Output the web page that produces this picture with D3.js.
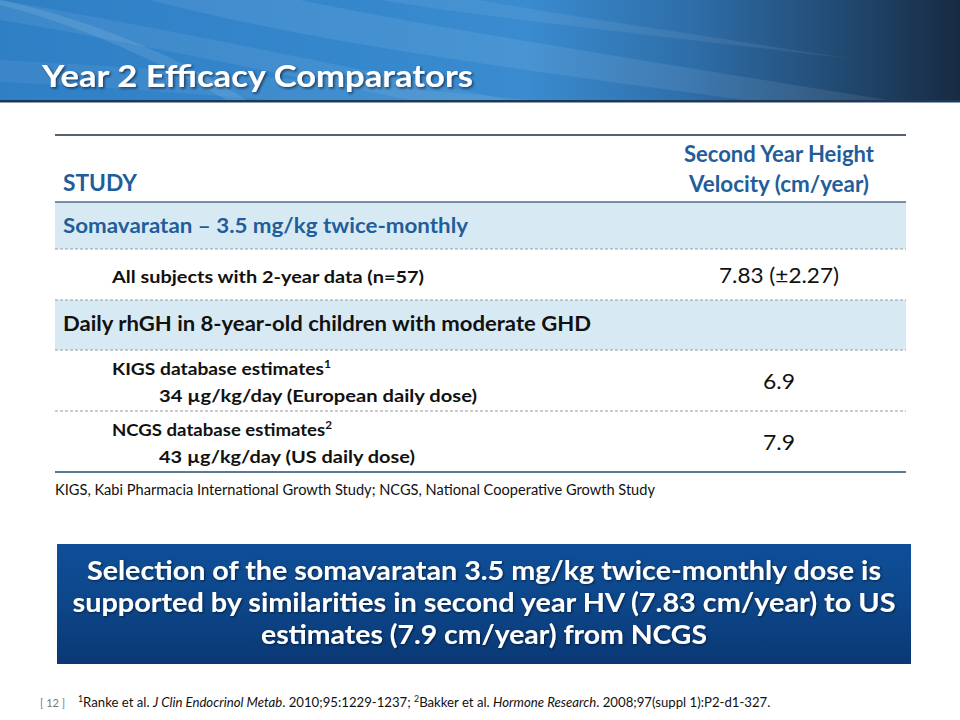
<!DOCTYPE html>
<html><head><meta charset="utf-8">
<script src="https://cdn.jsdelivr.net/npm/d3@7/dist/d3.min.js"></script>
<style>html,body{margin:0;padding:0;background:#fff;}svg{display:block;}</style>
</head><body>
<script>
// ---- data ----
const slideTitle = "Year 2 Efficacy Comparators";
const headerStudy = "STUDY";
const headerValue = ["Second Year Height", "Velocity (cm/year)"];
const rowKinds = ["group", "item", "group", "item", "item"];
const rowLabels = ["Somavaratan \u2013 3.5 mg/kg twice-monthly", "All subjects with 2-year data (n=57)", "Daily rhGH in 8-year-old children with moderate GHD", "KIGS database estimates", "NCGS database estimates"];
const rowLabelSup = ["", "", "", "1", "2"];
const rowSubLabels = ["", "", "", "34 \u00b5g/kg/day (European daily dose)", "43 \u00b5g/kg/day (US daily dose)"];
const hvMean = [null, 7.83, null, 6.9, 7.9];
const hvSD = [null, 2.27, null, null, null];
const abbrevNote = "KIGS, Kabi Pharmacia International Growth Study; NCGS, National Cooperative Growth Study";
const conclusionLines = ["Selection of the somavaratan 3.5 mg/kg twice-monthly dose is", "supported by similarities in second year HV (7.83 cm/year) to US", "estimates (7.9 cm/year) from NCGS"];
const slideNumber = "[ 12 ]";
const refParts = [
  { t: "1", sup: true }, { t: "Ranke et al. " }, { t: "J Clin Endocrinol Metab", it: true }, { t: ". 2010;95:1229-1237;  " },
  { t: "2", sup: true }, { t: "Bakker et al.  " }, { t: "Hormone Research", it: true }, { t: ". 2008;97(suppl 1):P2-d1-327." }
];

// ---- layout ----
const W = 960, H = 720;
const FONT = "Lato, 'Open Sans', sans-serif";
const svg = d3.select("body").append("svg").attr("width", W).attr("height", H);
const defs = svg.append("defs");

function fit(sel, w) { if (w) sel.attr("textLength", w).attr("lengthAdjust", "spacingAndGlyphs"); return sel; }

// banner
const bg = defs.append("linearGradient").attr("id", "bannerG").attr("x1", 0).attr("x2", 1).attr("y1", 0).attr("y2", 0);
[[0, "#2f7fc5"], [0.35, "#3587cc"], [0.55, "#3a8bcf"], [0.72, "#2e6ea9"], [0.86, "#234e78"], [1, "#172a42"]]
  .forEach(([o, c]) => bg.append("stop").attr("offset", o).attr("stop-color", c));
svg.append("rect").attr("x", 0).attr("y", 0).attr("width", W).attr("height", 102).attr("fill", "url(#bannerG)");
const sw = svg.append("g").attr("fill", "#ffffff");
sw.append("path").attr("d", "M0,20 C120,40 260,70 420,102 L520,102 C360,70 200,35 0,0 Z").attr("opacity", 0.07);
sw.append("path").attr("d", "M150,0 C300,40 520,70 760,102 L900,102 C640,60 420,25 300,0 Z").attr("opacity", 0.08);
sw.append("path").attr("d", "M0,60 C200,70 420,90 560,102 L300,102 C200,95 80,85 0,82 Z").attr("opacity", 0.06);
sw.append("path").attr("d", "M380,0 C500,20 700,40 860,60 C700,35 560,15 480,0 Z").attr("opacity", 0.07);
sw.append("path").attr("d", "M0,5 C60,20 140,50 230,102 L250,102 C160,45 70,15 0,0 Z").attr("opacity", 0.1);
svg.append("rect").attr("x", 0).attr("y", 100).attr("width", W).attr("height", 2.5).attr("fill", "#1e3958");

const sh = defs.append("filter").attr("id", "shadow").attr("x", -0.1).attr("y", -0.3).attr("width", 1.2).attr("height", 1.6);
sh.append("feDropShadow").attr("dx", 1.5).attr("dy", 1.5).attr("stdDeviation", 1).attr("flood-color", "#0a1a30").attr("flood-opacity", 0.7);
fit(svg.append("text").attr("x", 42).attr("y", 87).attr("font-family", FONT).attr("font-weight", 700)
  .attr("font-size", 31).attr("fill", "#fff").attr("filter", "url(#shadow)").text(slideTitle), 431);

// table
const tX0 = 55, tX1 = 906, valCX = 779;
const rowHeights = [47, 51, 50, 61, 61];
const headTop = 135, headBottom = 202;
const cum = d3.cumsum([0, ...rowHeights]);
const y = d3.scaleLinear().domain([0, cum[cum.length - 1]]).range([headBottom, headBottom + cum[cum.length - 1]]);
const fmt1 = d3.format(".2~f");
const blue = "#1f5e9a";

svg.append("line").attr("x1", tX0).attr("x2", tX1).attr("y1", headTop).attr("y2", headTop).attr("stroke", "#1d2f40").attr("stroke-width", 1.5);
fit(svg.append("text").attr("x", 63).attr("y", 191).attr("font-family", FONT).attr("font-weight", 700).attr("font-size", 23).attr("fill", blue).text(headerStudy), 74);
svg.append("g").selectAll("text").data(headerValue).join("text")
  .attr("x", valCX).attr("y", (d, i) => 162 + i * 30).attr("text-anchor", "middle")
  .attr("font-family", FONT).attr("font-weight", 700).attr("font-size", 22).attr("fill", blue)
  .text(d => d).each(function (d, i) { fit(d3.select(this), [190, 180][i]); });

const rows = rowLabels.map((l, i) => ({ i, kind: rowKinds[i], label: l, sup: rowLabelSup[i], sub: rowSubLabels[i], mean: hvMean[i], sd: hvSD[i] }));
const rg = svg.append("g").selectAll("g").data(rows).join("g");
rg.filter(d => d.kind === "group").append("rect").attr("x", tX0).attr("width", tX1 - tX0)
  .attr("y", d => y(cum[d.i])).attr("height", d => y(cum[d.i + 1]) - y(cum[d.i])).attr("fill", "#d7eaf4");

// group labels
const groupW = [405, null, 528];
rg.filter(d => d.kind === "group").append("text")
  .attr("x", 63).attr("y", d => y(cum[d.i]) + 31)
  .attr("font-family", FONT).attr("font-weight", 700).attr("font-size", 20.5)
  .attr("fill", d => d.i === 0 ? blue : "#111").text(d => d.label)
  .each(function (d) { fit(d3.select(this), groupW[d.i]); });

// item labels
const itemW = { 1: 312, 3: 219, 4: 220 };
const subW = { 3: 318, 4: 256 };
rg.filter(d => d.kind === "item").each(function (d) {
  const g = d3.select(this);
  const top = y(cum[d.i]);
  const hasSub = !!d.sub;
  const t = g.append("text").attr("x", 112).attr("y", hasSub ? top + 25 : top + 34)
    .attr("font-family", FONT).attr("font-weight", 700).attr("font-size", 17.5).attr("fill", "#111");
  t.append("tspan").text(d.label);
  if (d.sup) t.append("tspan").attr("font-size", 11).attr("dy", -7).text(d.sup);
  fit(t, itemW[d.i]);
  if (hasSub) {
    fit(g.append("text").attr("x", 159).attr("y", top + 52)
      .attr("font-family", FONT).attr("font-weight", 700).attr("font-size", 17.5).attr("fill", "#111").text(d.sub), subW[d.i]);
  }
  const valTxt = d.sd != null ? `${fmt1(d.mean)} (\u00b1${fmt1(d.sd)})` : fmt1(d.mean);
  fit(g.append("text").attr("x", valCX).attr("y", hasSub ? top + 39 : top + 34).attr("text-anchor", "middle")
    .attr("font-family", FONT).attr("font-size", 21).attr("fill", "#111").text(valTxt), d.sd != null ? 120 : 32);
});

// separators
svg.append("line").attr("x1", tX0).attr("x2", tX1).attr("y1", headBottom).attr("y2", headBottom).attr("stroke", "#4f6f8c").attr("stroke-width", 1.5);
svg.append("g").selectAll("line").data(cum.slice(1, -1)).join("line")
  .attr("x1", tX0).attr("x2", tX1).attr("y1", d => y(d)).attr("y2", d => y(d))
  .attr("stroke", "#9a9a9a").attr("stroke-width", 1).attr("stroke-dasharray", "3,2");
const yEnd = y(cum[cum.length - 1]);
svg.append("line").attr("x1", tX0).attr("x2", tX1).attr("y1", yEnd).attr("y2", yEnd).attr("stroke", "#5b7a98").attr("stroke-width", 2);

fit(svg.append("text").attr("x", 55).attr("y", 495).attr("font-family", FONT).attr("font-size", 14.5).attr("fill", "#111").text(abbrevNote), 600);

// conclusion box
const cg = defs.append("linearGradient").attr("id", "boxG").attr("x1", 0).attr("x2", 0).attr("y1", 0).attr("y2", 1);
[[0, "#0e4f98"], [0.5, "#0d4689"], [1, "#0a3874"]].forEach(([o, c]) => cg.append("stop").attr("offset", o).attr("stop-color", c));
svg.append("rect").attr("x", 57).attr("y", 544).attr("width", 854).attr("height", 120).attr("fill", "url(#boxG)");
const sh2 = defs.append("filter").attr("id", "shadow2").attr("x", -0.05).attr("y", -0.3).attr("width", 1.1).attr("height", 1.6);
sh2.append("feDropShadow").attr("dx", 1).attr("dy", 1).attr("stdDeviation", 0.8).attr("flood-color", "#021530").attr("flood-opacity", 0.8);
const boxW = [794, 823, 446];
svg.append("g").selectAll("text").data(conclusionLines).join("text")
  .attr("x", 484).attr("y", (d, i) => 580 + i * 32).attr("text-anchor", "middle")
  .attr("font-family", FONT).attr("font-weight", 700).attr("font-size", 27).attr("fill", "#fff").attr("filter", "url(#shadow2)")
  .text(d => d).each(function (d, i) { fit(d3.select(this), boxW[i]); });

// footer
svg.append("text").attr("x", 40).attr("y", 707).attr("font-family", FONT).attr("font-size", 11).attr("fill", "#777").text(slideNumber);
const refG = svg.append("g");
const ref = refG.append("text").attr("x", 0).attr("y", 0).attr("font-family", FONT).attr("font-size", 13.5).attr("fill", "#111");
refParts.forEach((p, i) => {
  const ts = ref.append("tspan").text(p.t);
  if (p.it) ts.attr("font-style", "italic");
  if (p.sup) ts.attr("font-size", 9).attr("baseline-shift", "super");
});
const refLen = ref.node().getComputedTextLength();
refG.attr("transform", `translate(78,707) scale(${693 / refLen},1)`);
</script>
</body></html>
